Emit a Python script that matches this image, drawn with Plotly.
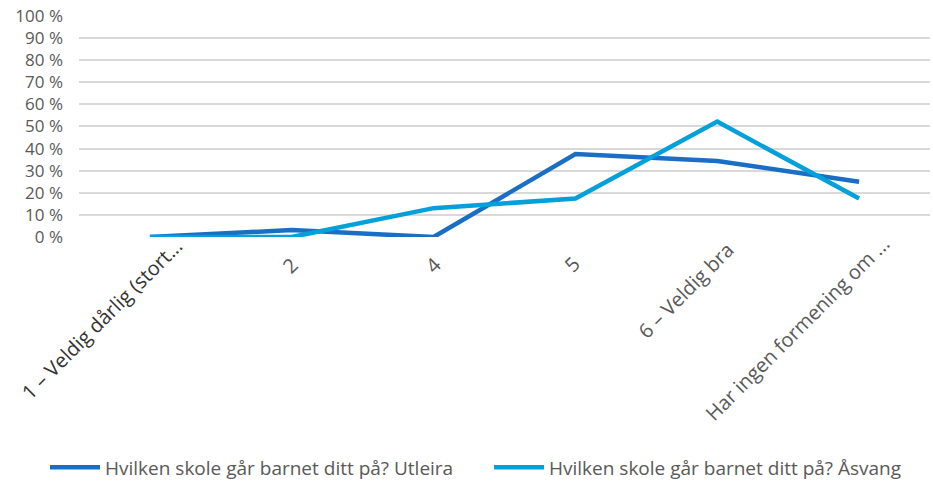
import plotly.graph_objects as go

categories = ["1 – Veldig dårlig (stort...", "2", "4", "5", "6 – Veldig bra", "Har ingen formening om ..."]
utleira = [0, 3.125, 0, 37.5, 34.375, 25]
asvang = [0, 0, 13.04, 17.39, 52.17, 17.39]
series_names = ["Hvilken skole går barnet ditt på? Utleira", "Hvilken skole går barnet ditt på? Åsvang"]
y_ticks = list(range(0, 101, 10))

# pixel offsets / colours of the rotated category labels (label layout, not data)
label_shift_x = [-48, -2, -1, -4, -32, -62]
label_shift_y = [-81, -28, -28, -27, -53, -91]
label_colors = ["#333333", "#595959", "#595959", "#595959", "#595959", "#595959"]

FONT = "Open Sans"
GREY = "#595959"

fig = go.Figure()
fig.add_trace(go.Scatter(x=categories, y=utleira, mode="lines", name=series_names[0],
                         line=dict(color="#1A6EC4", width=4.5), legend="legend"))
fig.add_trace(go.Scatter(x=categories, y=asvang, mode="lines", name=series_names[1],
                         line=dict(color="#03A0DA", width=4.5), legend="legend2"))

for i, (cat, dx, dy, col) in enumerate(zip(categories, label_shift_x, label_shift_y, label_colors)):
    fig.add_annotation(x=i, xref="x", y=0, yref="paper", text=cat, showarrow=False,
                       textangle=-45, xanchor="center", yanchor="middle",
                       xshift=dx, yshift=dy, borderpad=0,
                       font=dict(family=FONT, size=20, color=col))

legend_common = dict(orientation="h", xref="container", yref="container",
                     xanchor="left", yanchor="middle", y=0.05,
                     font=dict(size=19, color=GREY, family=FONT), itemwidth=50,
                     bgcolor="rgba(0,0,0,0)")
fig.update_layout(
    width=933, height=492,
    margin=dict(l=79, r=3, t=15, b=255, autoexpand=False),
    plot_bgcolor="white", paper_bgcolor="white",
    font=dict(family=FONT, color=GREY, size=16),
    legend=dict(x=45 / 933, **legend_common),
    legend2=dict(x=489 / 933, **legend_common),
    showlegend=True,
)
fig.update_xaxes(type="category", range=[-0.5, 5.5], automargin=False,
                 showticklabels=False, showgrid=False, zeroline=False,
                 showline=False, ticks="")
fig.update_yaxes(range=[0, 100.4], tickvals=y_ticks, ticktext=[f"{v} %" for v in y_ticks],
                 tickfont=dict(size=17, color=GREY), showgrid=True, gridcolor="#D9D9D9",
                 gridwidth=1.5, zeroline=False, showline=False, ticklabelstandoff=15,
                 automargin=False)

fig.write_html("out.html", config={"displayModeBar": False},
               post_script="document.body.style.margin='0px';")
